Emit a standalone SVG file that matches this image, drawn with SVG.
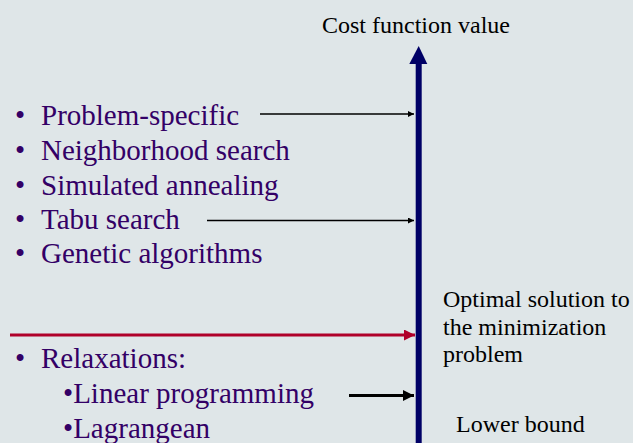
<svg xmlns="http://www.w3.org/2000/svg" width="633" height="443" viewBox="0 0 633 443" font-family="Liberation Serif, Times New Roman, serif">
<style>
.item{font-size:29px;fill:#330066}
.lbl{font-size:24px;fill:#000}
.thin{stroke:#000;stroke-width:1.5;fill:none}
.thick{stroke:#000;stroke-width:3;fill:none}
</style>
<defs>
<marker id="ah" viewBox="0 0 10 10" refX="10" refY="5" markerWidth="8" markerHeight="6" orient="auto" markerUnits="userSpaceOnUse"><path d="M0,0L10,5L0,10z" fill="#000"/></marker>
<marker id="ahB" viewBox="0 0 10 10" refX="10" refY="5" markerWidth="12" markerHeight="11" orient="auto" markerUnits="userSpaceOnUse"><path d="M0,0L10,5L0,10z" fill="#000"/></marker>
<marker id="ahR" viewBox="0 0 10 10" refX="10" refY="5" markerWidth="12" markerHeight="11" orient="auto" markerUnits="userSpaceOnUse"><path d="M0,0L10,5L0,10z" fill="#b0002a"/></marker>
</defs>
<rect width="633" height="443" fill="#dfe6e8"/>
<g id="axis">
<rect x="415.7" y="62" width="6" height="381" fill="#000066"/>
<path d="M409.3,64L418.7,46L427.3,64z" fill="#000066"/>
<text class="lbl" x="416" y="33" text-anchor="middle" font-family="Liberation Serif">Cost function value</text>
</g>
<g id="heuristics" font-family="Liberation Serif">
<text class="item" x="15" y="125">•</text><text class="item" x="41" y="125">Problem-specific</text>
<text class="item" x="15" y="160">•</text><text class="item" x="41" y="160">Neighborhood search</text>
<text class="item" x="15" y="195">•</text><text class="item" x="41" y="195">Simulated annealing</text>
<text class="item" x="15" y="229">•</text><text class="item" x="41" y="229">Tabu search</text>
<text class="item" x="15" y="263">•</text><text class="item" x="41" y="263">Genetic algorithms</text>
</g>
<g id="relaxations" font-family="Liberation Serif">
<text class="item" x="15" y="368">•</text><text class="item" x="41" y="368">Relaxations:</text>
<text class="item" x="63" y="403">•Linear programming</text>
<text class="item" x="63" y="438">•Lagrangean</text>
</g>
<g id="optimal" font-family="Liberation Serif">
<text class="lbl" x="443" y="307">Optimal solution to</text>
<text class="lbl" x="443" y="335">the minimization</text>
<text class="lbl" x="443" y="362">problem</text>
</g>
<g id="lowerbound" font-family="Liberation Serif">
<text class="lbl" x="456" y="432">Lower bound</text>
</g>
<g id="connectors">
<line class="thin" x1="260" y1="114" x2="414" y2="114" marker-end="url(#ah)"/>
<line class="thin" x1="207" y1="220.5" x2="414" y2="220.5" marker-end="url(#ah)"/>
<line x1="10" y1="335" x2="415" y2="335" stroke="#b0002a" stroke-width="3" marker-end="url(#ahR)"/>
<line class="thick" x1="349" y1="395.5" x2="414" y2="395.5" marker-end="url(#ahB)"/>
</g>
</svg>
